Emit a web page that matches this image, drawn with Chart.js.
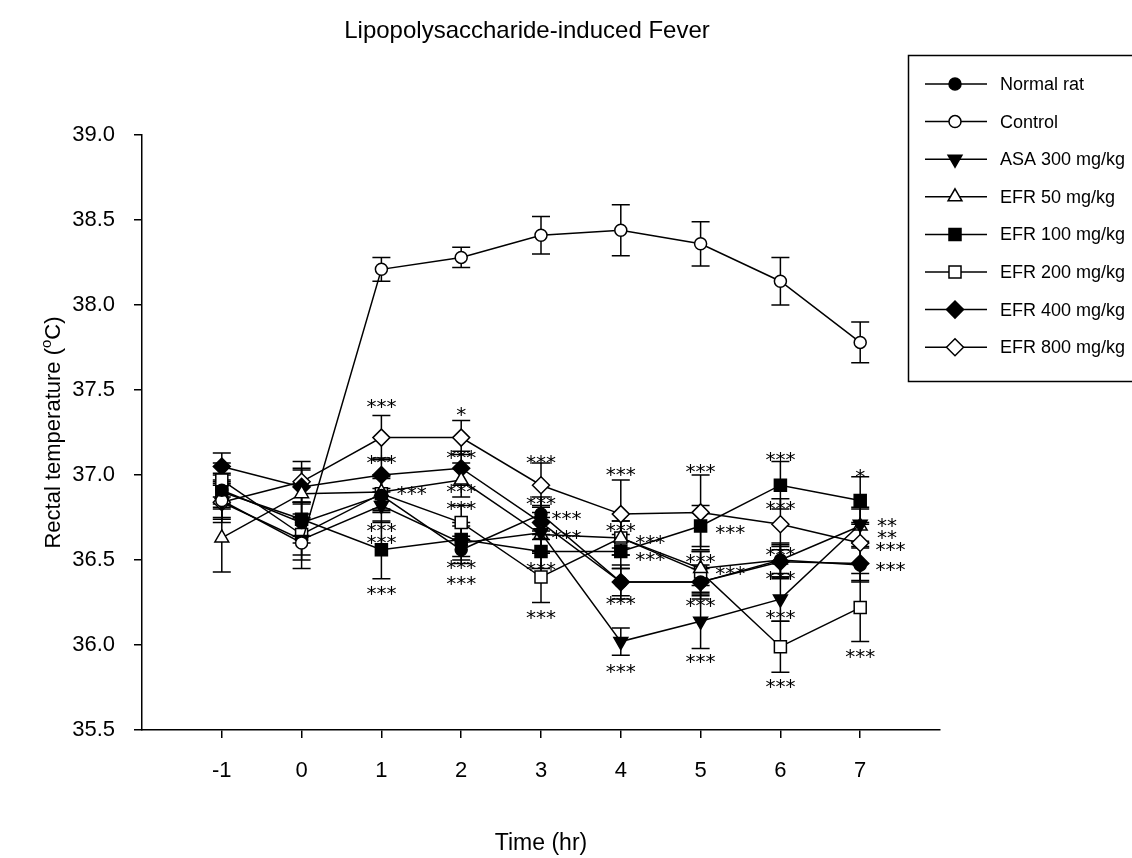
<!DOCTYPE html>
<html>
<head>
<meta charset="utf-8">
<script src="https://cdn.jsdelivr.net/npm/chart.js@4.4.1/dist/chart.umd.min.js"></script>
<style>
  html, body { margin: 0; padding: 0; background: #fff; }
  #wrap { width: 1132px; height: 858px; }
</style>
</head>
<body>
<div id="wrap"><canvas id="feverChart" width="1132" height="858"></canvas></div>
<script>
// Data
const times = [-1, 0, 1, 2, 3, 4, 5, 6, 7];
const xTicks = [-1, 0, 1, 2, 3, 4, 5, 6, 7];
const yTicks = [35.5, 36.0, 36.5, 37.0, 37.5, 38.0, 38.5, 39.0];

const seriesNames = ['Normal rat', 'Control', 'ASA 300 mg/kg', 'EFR 50 mg/kg',
  'EFR 100 mg/kg', 'EFR 200 mg/kg', 'EFR 400 mg/kg', 'EFR 800 mg/kg'];

const normalRat   = [36.91, 36.72, 36.88, 36.56, 36.77, 36.37, 36.37, 36.50, 36.47];
const normalRatSE = [0.10, 0.12, 0.10, 0.08, 0.10, 0.08, 0.08, 0.08, 0.10];
const control     = [36.85, 36.60, 38.21, 38.28, 38.41, 38.44, 38.36, 38.14, 37.78];
const controlSE   = [0.10, 0.15, 0.07, 0.06, 0.11, 0.15, 0.13, 0.14, 0.12];
const asa300      = [36.84, 36.62, 36.82, 36.60, 36.66, 36.02, 36.14, 36.27, 36.71];
const asa300SE    = [0.12, 0.12, 0.10, 0.10, 0.12, 0.08, 0.16, 0.13, 0.10];
const efr50       = [36.63, 36.89, 36.90, 36.97, 36.65, 36.63, 36.45, 36.50, 36.70];
const efr50SE     = [0.20, 0.15, 0.10, 0.10, 0.10, 0.10, 0.10, 0.10, 0.10];
const efr100      = [36.90, 36.74, 36.56, 36.62, 36.55, 36.55, 36.70, 36.94, 36.85];
const efr100SE    = [0.10, 0.10, 0.17, 0.10, 0.10, 0.10, 0.12, 0.14, 0.14];
const efr200      = [36.97, 36.65, 36.89, 36.72, 36.40, 36.63, 36.43, 35.99, 36.22];
const efr200SE    = [0.10, 0.12, 0.10, 0.10, 0.15, 0.10, 0.12, 0.15, 0.20];
const efr400      = [37.05, 36.93, 37.00, 37.04, 36.72, 36.37, 36.37, 36.49, 36.48];
const efr400SE    = [0.08, 0.10, 0.10, 0.10, 0.10, 0.10, 0.10, 0.10, 0.10];
const efr800      = [36.84, 36.96, 37.22, 37.22, 36.94, 36.77, 36.78, 36.71, 36.60];
const efr800SE    = [0.10, 0.12, 0.13, 0.10, 0.13, 0.20, 0.22, 0.15, 0.12];

// significance marks (x, temperature, text)
const starX = [1, 1, 1.38, 1, 1, 1,
  2, 2, 2, 2, 2, 2,
  3, 3, 3.32, 3.32, 3, 3,
  4, 4, 4.37, 4.37, 4, 4,
  5, 5.37, 5, 5.37, 5, 5,
  6, 6, 6, 6, 6, 6,
  7, 7.335, 7.335, 7.38, 7.38, 7];
const starY = [37.43, 37.10, 36.92, 36.70, 36.63, 36.33,
  37.38, 37.13, 36.93, 36.83, 36.48, 36.39,
  37.10, 36.86, 36.77, 36.66, 36.47, 36.19,
  37.03, 36.70, 36.63, 36.53, 36.27, 35.87,
  37.05, 36.69, 36.52, 36.45, 36.26, 35.93,
  37.12, 36.83, 36.56, 36.42, 36.19, 35.78,
  37.02, 36.73, 36.66, 36.59, 36.47, 35.96];
const starText = ['***', '***', '***', '***', '***', '***',
  '*', '***', '***', '***', '***', '***',
  '***', '***', '***', '***', '***', '***',
  '***', '***', '***', '***', '***', '***',
  '***', '***', '***', '***', '***', '***',
  '***', '***', '***', '***', '***', '***',
  '*', '**', '**', '***', '***', '***'];

const FONT = '"Liberation Sans", Arial, sans-serif';

//Build one dataset
function makeSeries(label, values, se, style, filled, radius, rotation) {
  return {
    label: label,
    data: times.map((t, i) => ({ x: t, y: values[i] })),
    se: se,
    borderColor: '#000',
    borderWidth: 1.5,
    pointStyle: style,
    pointRotation: rotation || 0,
    pointRadius: radius,
    pointBorderWidth: 1.5,
    pointBorderColor: '#000',
    pointBackgroundColor: filled ? '#000' : '#fff',
    tension: 0,
    fill: false
  };
}

const datasets = [
  makeSeries(seriesNames[0], normalRat, normalRatSE, 'circle', true, 6),
  makeSeries(seriesNames[1], control, controlSE, 'circle', false, 6),
  makeSeries(seriesNames[2], asa300, asa300SE, 'triangle', true, 8, 180),
  makeSeries(seriesNames[3], efr50, efr50SE, 'triangle', false, 8),
  makeSeries(seriesNames[4], efr100, efr100SE, 'rect', true, 8.5),
  makeSeries(seriesNames[5], efr200, efr200SE, 'rect', false, 8.5),
  makeSeries(seriesNames[6], efr400, efr400SE, 'rectRot', true, 8.5),
  makeSeries(seriesNames[7], efr800, efr800SE, 'rectRot', false, 8.5)
];

//Error bars under the markers
const errorBars = {
  id: 'errorBars',
  beforeDatasetsDraw(chart) {
    const ctx = chart.ctx;
    const xs = chart.scales.x, ys = chart.scales.y;
    ctx.save();
    ctx.strokeStyle = '#000';
    ctx.lineWidth = 1.5;
    chart.data.datasets.forEach(ds => {
      ds.data.forEach((p, i) => {
        const px = xs.getPixelForValue(p.x);
        const top = ys.getPixelForValue(p.y + ds.se[i]);
        const bot = ys.getPixelForValue(p.y - ds.se[i]);
        ctx.beginPath();
        ctx.moveTo(px, top); ctx.lineTo(px, bot);
        ctx.moveTo(px - 9, top); ctx.lineTo(px + 9, top);
        ctx.moveTo(px - 9, bot); ctx.lineTo(px + 9, bot);
        ctx.stroke();
      });
    });
    ctx.restore();
  }
};

//Stars, titles and the boxed legend
const decorations = {
  id: 'decorations',
  afterDraw(chart) {
    const ctx = chart.ctx;
    const xs = chart.scales.x, ys = chart.scales.y;
    const area = chart.chartArea;
    ctx.save();
    ctx.fillStyle = '#000';

    // significance marks
    ctx.font = '20px "DejaVu Sans", sans-serif';
    ctx.textAlign = 'center';
    ctx.textBaseline = 'alphabetic';
    starX.forEach((sx, i) => {
      ctx.fillText(starText[i], xs.getPixelForValue(sx), ys.getPixelForValue(starY[i]) + 11);
    });

    // title
    const midX = (area.left + area.right) / 2;
    ctx.font = '24px ' + FONT;
    ctx.fillText('Lipopolysaccharide-induced Fever', midX - 14, 38);

    // x title
    ctx.font = '23px ' + FONT;
    ctx.fillText('Time (hr)', midX, 850);

    // y title with superscript o
    ctx.save();
    ctx.translate(60, (area.top + area.bottom) / 2);
    ctx.rotate(-Math.PI / 2);
    const a = 'Rectal temperature (', b = 'C)';
    ctx.font = '22px ' + FONT;
    const wa = ctx.measureText(a).width, wb = ctx.measureText(b).width;
    ctx.font = '15px ' + FONT;
    const wo = ctx.measureText('o').width;
    const x0 = -(wa + wo + wb) / 2;
    ctx.textAlign = 'left';
    ctx.font = '22px ' + FONT;
    ctx.fillText(a, x0, 0);
    ctx.font = '15px ' + FONT;
    ctx.fillText('o', x0 + wa, -9);
    ctx.font = '22px ' + FONT;
    ctx.fillText(b, x0 + wa + wo, 0);
    ctx.restore();

    // legend box
    ctx.strokeStyle = '#000';
    ctx.lineWidth = 1.5;
    ctx.strokeRect(908.5, 55.5, 260, 326);
    ctx.font = '18px ' + FONT;
    ctx.textAlign = 'left';
    ctx.textBaseline = 'middle';
    chart.data.datasets.forEach((ds, i) => {
      const y = 84 + i * 37.6;
      ctx.beginPath();
      ctx.moveTo(925, y); ctx.lineTo(987, y);
      ctx.lineWidth = 1.5;
      ctx.strokeStyle = '#000';
      ctx.stroke();
      ctx.fillStyle = ds.pointBackgroundColor;
      Chart.helpers.drawPoint(ctx, {
        pointStyle: ds.pointStyle, radius: ds.pointRadius,
        rotation: ds.pointRotation, borderWidth: 1.5
      }, 955, y);
      ctx.fillStyle = '#000';
      ctx.fillText(ds.label, 1000, y + 1);
    });
    ctx.restore();
  }
};

function createChart() {
  const ctx = document.getElementById('feverChart').getContext('2d');
  /* global Chart */
  return new Chart(ctx, {
    type: 'line',
    data: { datasets: datasets },
    options: {
      responsive: false,
      animation: false,
      devicePixelRatio: 1,
      layout: { padding: { top: 135, right: 192, left: 0, bottom: 0 } },
      plugins: {
        legend: { display: false },
        title: { display: false },
        tooltip: { enabled: false }
      },
      scales: {
        x: {
          type: 'linear',
          min: -2,
          max: 8,
          afterBuildTicks: s => { s.ticks = xTicks.map(v => ({ value: v })); },
          afterFit: s => { s.height = 128; },
          grid: { drawOnChartArea: false, drawTicks: true, tickLength: 8, color: '#000', lineWidth: 1.5 },
          border: { color: '#000', width: 1.5 },
          ticks: { color: '#000', font: { family: FONT, size: 22 }, padding: 20, maxRotation: 0 }
        },
        y: {
          min: 35.5,
          max: 39,
          afterBuildTicks: s => { s.ticks = yTicks.map(v => ({ value: v })); },
          afterFit: s => { s.width = 142; },
          grid: { drawOnChartArea: false, drawTicks: true, tickLength: 8, color: '#000', lineWidth: 1.5 },
          border: { color: '#000', width: 1.5 },
          ticks: { color: '#000', font: { family: FONT, size: 22 }, padding: 19, callback: v => v.toFixed(1) }
        }
      }
    },
    plugins: [errorBars, decorations]
  });
}

document.addEventListener('DOMContentLoaded', createChart);
</script>
</body>
</html>
